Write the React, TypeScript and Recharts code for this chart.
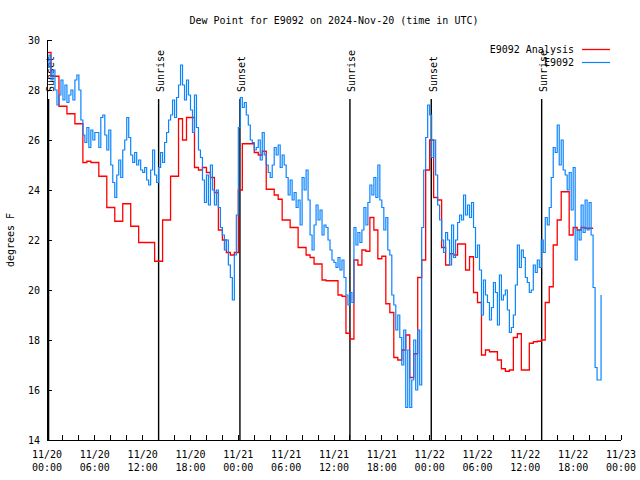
import { LineChart, Line, XAxis, YAxis, ReferenceLine } from "recharts";

const FONT = "'DejaVu Sans Mono', monospace";
const BLUE = "#0a84ff";
const RED = "#ff0000";

// E9092 observations, one value every 15 minutes from 11/20 00:00 UTC
const blueStep = 0.25;
const blueValues = [
  28.9, 29.4, 28.4, 28.8, 28.0, 27.4, 27.8, 28.4, 27.6, 28.2, 27.5, 27.8,
  28.0, 27.6, 28.4, 28.6, 28.0, 26.8, 26.2, 25.9, 26.5, 25.7, 26.4, 26.0,
  26.3, 26.3, 25.7, 26.9, 27.0, 26.2, 25.6, 26.4, 25.0, 24.3, 23.7, 24.6,
  25.2, 24.5, 25.6, 26.0, 26.9, 26.1, 25.4, 25.1, 25.5, 25.0, 25.2, 24.8,
  24.7, 24.9, 24.4, 24.2, 24.8, 25.6, 24.6, 24.3, 24.9, 25.5, 25.1, 25.9,
  26.3, 26.8, 27.0, 27.6, 26.9, 27.7, 28.2, 29.0, 28.2, 27.6, 28.4, 27.8,
  27.2, 26.3, 27.8, 26.5, 25.6, 25.3, 24.4, 23.5, 24.6, 23.4, 25.0, 24.0,
  23.4, 24.0, 23.3, 22.5, 22.2, 21.6, 22.0, 21.0, 20.5, 19.6, 21.4, 23.0,
  26.5, 27.7, 27.3, 27.5, 27.0, 26.6, 26.0, 25.9, 25.6, 25.7, 26.0, 25.2,
  26.3, 25.4, 25.0, 24.7, 24.5, 25.0, 25.7, 25.4, 25.8, 24.9, 25.4, 25.0,
  24.5, 23.8, 24.4, 23.6, 23.9, 23.3, 23.6, 22.6, 24.5, 24.0, 24.8, 23.6,
  22.2, 21.6, 22.6, 23.4, 22.8, 23.2, 22.2, 22.6, 22.5, 22.0, 21.6, 21.2,
  21.1, 20.9, 21.3, 20.8, 21.2, 20.5, 19.8, 19.4, 19.9, 19.5, 22.5, 21.8,
  22.3, 21.9, 22.4, 23.3, 22.6, 23.5, 24.2, 23.8, 24.5, 23.7, 25.0, 23.6,
  23.3, 22.4, 22.9, 21.6, 21.4, 19.8, 19.4, 18.4, 19.0, 18.1, 17.0, 18.4,
  15.3, 17.6, 15.3, 16.4, 18.0, 16.0, 18.4, 16.2, 22.5, 24.8, 26.1, 27.4,
  27.0, 25.3, 26.0, 24.6, 23.4, 22.8, 22.0, 21.5, 22.3, 22.0, 21.0, 22.6,
  21.3, 22.0, 22.7, 23.0, 22.8, 23.8, 23.0, 23.4, 22.9, 23.5, 22.5, 21.3,
  21.8, 20.8, 19.0, 20.4, 19.8, 19.5, 18.8, 19.3, 20.3, 19.9, 18.6, 20.6,
  19.6, 19.8, 20.0, 19.2, 18.3, 18.5, 19.0, 20.2, 21.8, 20.9, 21.6, 21.3,
  20.5, 20.3, 19.9, 20.0, 21.0, 20.7, 21.2, 20.9, 22.0, 21.5, 22.9, 22.6,
  23.3, 24.5, 25.7, 25.5, 26.6, 25.0, 26.0, 24.8, 24.6, 24.0, 24.7, 23.2,
  24.9, 21.2, 22.4, 22.0, 23.4, 22.3, 23.6, 22.4, 23.5, 22.2, 20.1, 16.9,
  16.4, 16.4, 19.8,
];

// E9092 Analysis, one value every 30 minutes
const redStep = 0.5;
const redValues = [
  29.5, 28.55, 28.55, 27.35, 27.35, 27.05, 27.05, 26.65, 26.65, 25.1,
  25.15, 25.1, 25.1, 24.55, 24.55, 23.3, 23.3, 22.75, 22.75, 23.45,
  23.45, 22.55, 22.55, 21.9, 21.9, 21.9, 21.9, 21.15, 21.15, 22.8,
  22.8, 24.55, 24.55, 26.85, 26.0, 26.9, 26.9, 24.9, 24.8, 24.9,
  24.7, 24.5, 23.9, 22.4, 22.0, 21.5, 21.4, 21.5, 24.0, 25.85,
  25.85, 25.85, 25.5, 25.4, 25.55, 24.03, 24.03, 23.8, 23.63, 22.8,
  22.8, 22.5, 22.5, 21.7, 21.7, 21.4, 21.3, 21.04, 21.04, 20.4,
  20.37, 20.37, 20.37, 19.8, 19.75, 18.27, 18.04, 21.2, 21.0, 21.6,
  21.55, 22.9, 22.4, 21.25, 21.35, 19.45, 19.1, 17.3, 17.2, 17.6,
  18.2, 16.5, 17.45, 20.5, 21.2, 24.8, 26.0, 23.7, 23.6, 21.7,
  21.0, 21.45, 21.4, 21.84, 21.84, 20.8, 21.33, 19.9, 19.5, 17.4,
  17.6, 17.53, 17.53, 17.2, 16.85, 16.75, 16.8, 18.1, 18.25, 16.8,
  16.8, 17.87, 17.93, 17.95, 18.0, 19.5, 20.13, 21.8, 22.8, 23.93,
  23.93, 22.2, 22.5, 22.4, 22.5, 22.47, 22.47, 22.47,
];

const eventHours = [0.2, 14.0, 24.2, 38.0, 48.2, 62.05];
const eventLabels = ["Sunset", "Sunrise", "Sunset", "Sunrise", "Sunset", "Sunrise"];
const eventTop = 27.64;

const xTicks = [0, 2, 4, 6, 8, 10, 12, 14, 16, 18, 20, 22, 24, 26, 28, 30, 32, 34, 36,
  38, 40, 42, 44, 46, 48, 50, 52, 54, 56, 58, 60, 62, 64, 66, 68, 70, 72];
const xTickDates = ["11/20", "11/20", "11/20", "11/20", "11/21", "11/21", "11/21",
  "11/21", "11/22", "11/22", "11/22", "11/22", "11/23"];
const xTickTimes = ["00:00", "06:00", "12:00", "18:00", "00:00", "06:00", "12:00",
  "18:00", "00:00", "06:00", "12:00", "18:00", "00:00"];
const yTicks = [14, 16, 18, 20, 22, 24, 26, 28, 30];

const blueData = blueValues.map((v, i) => ({ t: i * blueStep, v }));
const redData = redValues.map((v, i) => ({ t: i * redStep, v }));

function BottomTick({ x, y, payload }: any) {
  const i = payload.value / 6;
  const major = Number.isInteger(i);
  return (
    <g>
      <line x1={x} x2={x} y1={y} y2={y - 5} stroke="#000" shapeRendering="crispEdges" />
      {major && (
        <text textAnchor="middle" fontFamily={FONT} fontSize={10} fill="#000">
          <tspan x={x} y={y + 18}>{xTickDates[i]}</tspan>
          <tspan x={x} y={y + 31}>{xTickTimes[i]}</tspan>
        </text>
      )}
    </g>
  );
}

function TopTick({ x, y }: any) {
  return <line x1={x} x2={x} y1={y} y2={y + 5} stroke="#000" shapeRendering="crispEdges" />;
}

function LeftTick({ x, y, payload }: any) {
  return (
    <g>
      <line x1={x} x2={x + 5} y1={y} y2={y} stroke="#000" shapeRendering="crispEdges" />
      <text x={x - 7} y={y + 3.6} textAnchor="end" fontFamily={FONT} fontSize={10} fill="#000">
        {payload.value}
      </text>
    </g>
  );
}

function RightTick({ x, y }: any) {
  return <line x1={x} x2={x - 5} y1={y} y2={y} stroke="#000" shapeRendering="crispEdges" />;
}

function EventMark({ x1, y1, x2, y2, label }: any) {
  const top = Math.min(y1, y2);
  return (
    <g>
      <line x1={x1} y1={y1} x2={x2} y2={y2} stroke="#000" strokeWidth={1.4} />
      <text
        transform={`translate(${x1 + 5.5},${top - 7}) rotate(-90)`}
        fontFamily={FONT}
        fontSize={10}
        fill="#000"
      >
        {label}
      </text>
    </g>
  );
}

const axisLine = { stroke: "#000", shapeRendering: "crispEdges" };

export default function App() {
  return (
    <div style={{ position: "absolute", left: 0, top: 0, width: 640, height: 480, background: "#fff" }}>
      <LineChart width={640} height={480} margin={{ top: 40, right: 19, bottom: 0, left: 0 }}>
        <XAxis
          dataKey="t"
          type="number"
          domain={[0, 72]}
          ticks={xTicks}
          interval={0}
          height={40}
          tickSize={0}
          tickMargin={0}
          tickLine={false}
          axisLine={axisLine}
          tick={<BottomTick />}
          allowDataOverflow
        />
        <XAxis
          xAxisId="top"
          orientation="top"
          dataKey="t"
          type="number"
          domain={[0, 72]}
          ticks={xTicks}
          interval={0}
          height={0}
          tickSize={0}
          tickMargin={0}
          tickLine={false}
          axisLine={axisLine}
          tick={<TopTick />}
        />
        <YAxis
          type="number"
          domain={[14, 30]}
          ticks={yTicks}
          interval={0}
          width={47}
          tickSize={0}
          tickMargin={0}
          tickLine={false}
          axisLine={axisLine}
          tick={<LeftTick />}
          allowDataOverflow
        />
        <YAxis
          yAxisId="right"
          orientation="right"
          type="number"
          domain={[14, 30]}
          ticks={yTicks}
          interval={0}
          width={0}
          tickSize={0}
          tickMargin={0}
          tickLine={false}
          axisLine={axisLine}
          tick={<RightTick />}
        />
        {eventHours.map((h, i) => (
          <ReferenceLine
            key={i}
            segment={[{ x: h, y: eventTop }, { x: h, y: 14 }]}
            ifOverflow="visible"
            shape={(p: any) => <EventMark {...p} label={eventLabels[i]} />}
          />
        ))}
        <Line
          data={redData}
          dataKey="v"
          type="stepAfter"
          stroke={RED}
          strokeWidth={1.3}
          dot={false}
          isAnimationActive={false}
        />
        <Line
          data={blueData}
          dataKey="v"
          type="stepAfter"
          stroke={BLUE}
          strokeWidth={1.2}
          dot={false}
          isAnimationActive={false}
        />
      </LineChart>
      <svg
        width={640}
        height={480}
        style={{ position: "absolute", left: 0, top: 0, pointerEvents: "none" }}
      >
        <text x={334} y={24} textAnchor="middle" fontFamily={FONT} fontSize={10} fill="#000">
          Dew Point for E9092 on 2024-Nov-20 (time in UTC)
        </text>
        <text
          transform="translate(14,240) rotate(-90)"
          textAnchor="middle"
          fontFamily={FONT}
          fontSize={10}
          fill="#000"
        >
          degrees F
        </text>
        <text x={574} y={53} textAnchor="end" fontFamily={FONT} fontSize={10} fill="#000">
          E9092 Analysis
        </text>
        <line x1={582} x2={610} y1={49.5} y2={49.5} stroke={RED} strokeWidth={1.3} />
        <text x={574} y={66} textAnchor="end" fontFamily={FONT} fontSize={10} fill="#000">
          E9092
        </text>
        <line x1={582} x2={610} y1={62.5} y2={62.5} stroke={BLUE} strokeWidth={1.2} />
      </svg>
    </div>
  );
}
